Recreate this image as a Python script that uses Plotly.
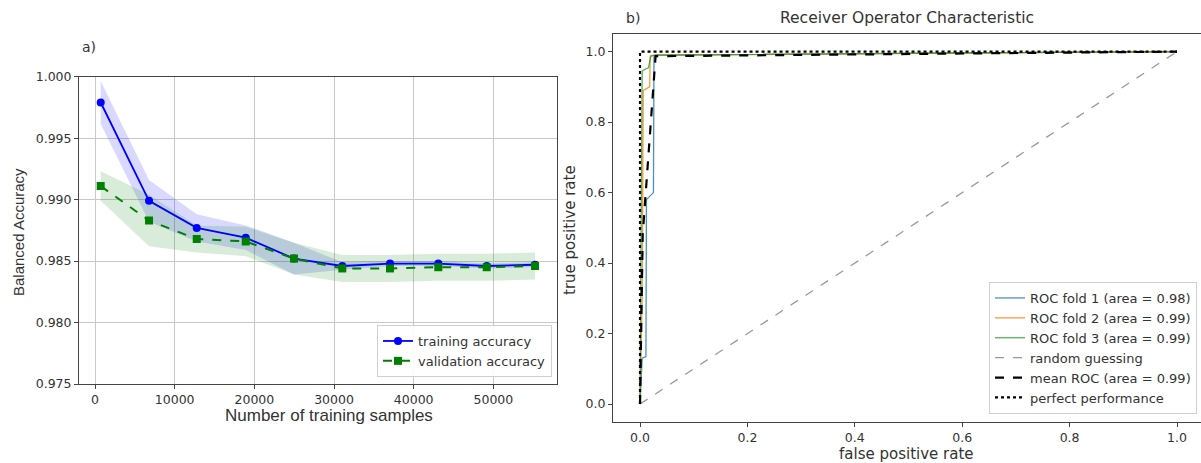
import plotly.graph_objects as go

# ---------------- data: panel a) learning curve ----------------
train_sizes = [715, 6780, 12770, 18920, 24980, 31040, 37030, 43090, 49170, 55230]
train_mean = [0.9979, 0.9899, 0.9877, 0.9869, 0.9852, 0.9846, 0.9848, 0.9848, 0.9846, 0.9847]
train_std = [0.00175, 0.0017, 0.0011, 0.0010, 0.0013, 0.0003, 0.0002, 0.0002, 0.0002, 0.0002]
val_mean = [0.9911, 0.9883, 0.9868, 0.9866, 0.9852, 0.9844, 0.9844, 0.9845, 0.9845, 0.9846]
val_std = [0.0012, 0.0021, 0.0011, 0.0012, 0.0013, 0.0011, 0.0011, 0.0011, 0.0011, 0.0011]

# ---------------- data: panel b) ROC ----------------
fold1_fpr = [0.0, 0.004, 0.011, 0.012, 0.025, 0.026, 0.03, 1.0]
fold1_tpr = [0.0, 0.13, 0.135, 0.58, 0.60, 0.985, 0.99, 1.0]
fold2_fpr = [0.0, 0.004, 0.006, 0.018, 0.019, 0.025, 1.0]
fold2_tpr = [0.0, 0.30, 0.89, 0.90, 0.985, 0.99, 1.0]
fold3_fpr = [0.0, 0.003, 0.004, 0.016, 0.02, 0.03, 1.0]
fold3_tpr = [0.0, 0.60, 0.945, 0.955, 0.988, 0.99, 1.0]
mean_fpr = [0.0, 0.003, 0.005, 0.029, 1.0]
mean_tpr = [0.0, 0.25, 0.48, 0.987, 1.0]
random_fpr = [0.0, 1.0]
random_tpr = [0.0, 1.0]
perfect_fpr = [0.0, 0.0, 1.0]
perfect_tpr = [0.0, 1.0, 1.0]
fold_labels = ["ROC fold 1 (area = 0.98)", "ROC fold 2 (area = 0.99)", "ROC fold 3 (area = 0.99)"]

W, H = 1201, 463
FONT = "DejaVu Sans"
TXT = "#333333"

fig = go.Figure()

# bands
tr_up = [m + s for m, s in zip(train_mean, train_std)]
tr_lo = [m - s for m, s in zip(train_mean, train_std)]
va_up = [m + s for m, s in zip(val_mean, val_std)]
va_lo = [m - s for m, s in zip(val_mean, val_std)]

fig.add_trace(go.Scatter(x=train_sizes + train_sizes[::-1], y=tr_up + tr_lo[::-1],
                         fill="toself", fillcolor="rgba(0,0,255,0.15)", line=dict(width=0),
                         hoverinfo="skip", showlegend=False, xaxis="x", yaxis="y"))
fig.add_trace(go.Scatter(x=train_sizes + train_sizes[::-1], y=va_up + va_lo[::-1],
                         fill="toself", fillcolor="rgba(0,128,0,0.15)", line=dict(width=0),
                         hoverinfo="skip", showlegend=False, xaxis="x", yaxis="y"))
fig.add_trace(go.Scatter(x=train_sizes, y=train_mean, mode="lines+markers", name="training accuracy",
                         line=dict(color="blue", width=1.8), marker=dict(symbol="circle", size=8, color="blue"),
                         xaxis="x", yaxis="y", legend="legend"))
fig.add_trace(go.Scatter(x=train_sizes, y=val_mean, mode="lines+markers", name="validation accuracy",
                         line=dict(color="green", width=2, dash="dash"),
                         marker=dict(symbol="square", size=8, color="green"),
                         xaxis="x", yaxis="y", legend="legend"))

# ROC panel
fold_colors = ["#1f77b4", "#ff7f0e", "#2ca02c"]
for fx, fy, c, lab in zip([fold1_fpr, fold2_fpr, fold3_fpr], [fold1_tpr, fold2_tpr, fold3_tpr],
                          fold_colors, fold_labels):
    fig.add_trace(go.Scatter(x=fx, y=fy, mode="lines", name=lab, line=dict(color=c, width=1.3),
                             opacity=0.8, xaxis="x2", yaxis="y2", legend="legend2"))
fig.add_trace(go.Scatter(x=random_fpr, y=random_tpr, mode="lines", name="random guessing",
                         line=dict(color="#999999", width=1.3, dash="dash"),
                         xaxis="x2", yaxis="y2", legend="legend2"))
fig.add_trace(go.Scatter(x=mean_fpr, y=mean_tpr, mode="lines", name="mean ROC (area = 0.99)",
                         line=dict(color="black", width=2.2, dash="dash"),
                         xaxis="x2", yaxis="y2", legend="legend2"))
fig.add_trace(go.Scatter(x=perfect_fpr, y=perfect_tpr, mode="lines", name="perfect performance",
                         line=dict(color="black", width=2.2, dash="dot"),
                         xaxis="x2", yaxis="y2", legend="legend2"))

axis_common = dict(showline=True, linecolor="#444444", linewidth=1, ticks="outside", ticklen=4,
                   tickcolor="#444444", tickfont=dict(family=FONT, size=12.5, color=TXT), zeroline=False,
                   automargin=False)

fig.update_layout(
    template="none",
    width=W, height=H, margin=dict(l=0, r=0, t=0, b=0, pad=0), autosize=False,
    paper_bgcolor="white", plot_bgcolor="white",
    font=dict(family=FONT, size=12, color=TXT),
    xaxis=dict(domain=[79 / W, 557 / W], range=[-2010, 57990], anchor="y", mirror=True,
               tickvals=[0, 10000, 20000, 30000, 40000, 50000], tickformat="d",
               showgrid=True, gridcolor="#c8c8c8", gridwidth=1, **axis_common),
    yaxis=dict(domain=[(H - 384) / H, (H - 76.7) / H], range=[0.975, 1.0], anchor="x", mirror=True,
               tickvals=[0.975, 0.98, 0.985, 0.99, 0.995, 1.0], tickformat=".3f",
               showgrid=True, gridcolor="#c8c8c8", gridwidth=1, **axis_common),
    xaxis2=dict(domain=[613 / W, 1.0], range=[-0.0503, 1.0447], anchor="y2", mirror=True,
                tickvals=[0, 0.2, 0.4, 0.6, 0.8, 1.0], tickformat=".1f", showgrid=False, **axis_common),
    yaxis2=dict(domain=[(H - 421.7) / H, (H - 34) / H], range=[-0.05, 1.05], anchor="x2", mirror=False,
                tickvals=[0, 0.2, 0.4, 0.6, 0.8, 1.0], tickformat=".1f", showgrid=False, **axis_common),
    legend=dict(x=552 / W, y=(H - 377) / H, xanchor="right", yanchor="bottom",
                bgcolor="rgba(255,255,255,0.9)", bordercolor="#d0d0d0", borderwidth=1,
                font=dict(family=FONT, size=13, color=TXT), tracegroupgap=0, itemwidth=30),
    legend2=dict(x=1197 / W, y=(H - 414) / H, xanchor="right", yanchor="bottom",
                 bgcolor="rgba(255,255,255,0.9)", bordercolor="#d0d0d0", borderwidth=1,
                 font=dict(family=FONT, size=13, color=TXT), tracegroupgap=0, itemwidth=30),
    annotations=[
        dict(text="a)", x=80 / W, y=(H - 47) / H, xref="paper", yref="paper", showarrow=False,
             xanchor="left", yanchor="middle", font=dict(family=FONT, size=14, color=TXT)),
        dict(text="b)", x=624 / W, y=(H - 18) / H, xref="paper", yref="paper", showarrow=False,
             xanchor="left", yanchor="middle", font=dict(family=FONT, size=14, color=TXT)),
        dict(text="Receiver Operator Characteristic", x=907 / W, y=(H - 18) / H, xref="paper", yref="paper",
             showarrow=False, xanchor="center", yanchor="middle", font=dict(family=FONT, size=15.5, color=TXT)),
        dict(text="Balanced Accuracy", x=18 / W, y=(H - 232) / H, xref="paper", yref="paper", showarrow=False,
             textangle=-90, xanchor="center", yanchor="middle",
             font=dict(family="Liberation Sans", size=15, color=TXT)),
        dict(text="Number of training samples", x=329 / W, y=(H - 415) / H, xref="paper", yref="paper",
             showarrow=False, xanchor="center", yanchor="middle",
             font=dict(family="Liberation Sans", size=17, color=TXT)),
        dict(text="true positive rate", x=570 / W, y=(H - 230) / H, xref="paper", yref="paper", showarrow=False,
             textangle=-90, xanchor="center", yanchor="middle", font=dict(family=FONT, size=15, color=TXT)),
        dict(text="false positive rate", x=906 / W, y=(H - 454) / H, xref="paper", yref="paper",
             showarrow=False, xanchor="center", yanchor="middle", font=dict(family=FONT, size=15, color=TXT)),
    ],
)

fig.write_html("out.html", config={"displayModeBar": False},
               post_script="document.body.style.margin='0';document.body.style.padding='0';")
